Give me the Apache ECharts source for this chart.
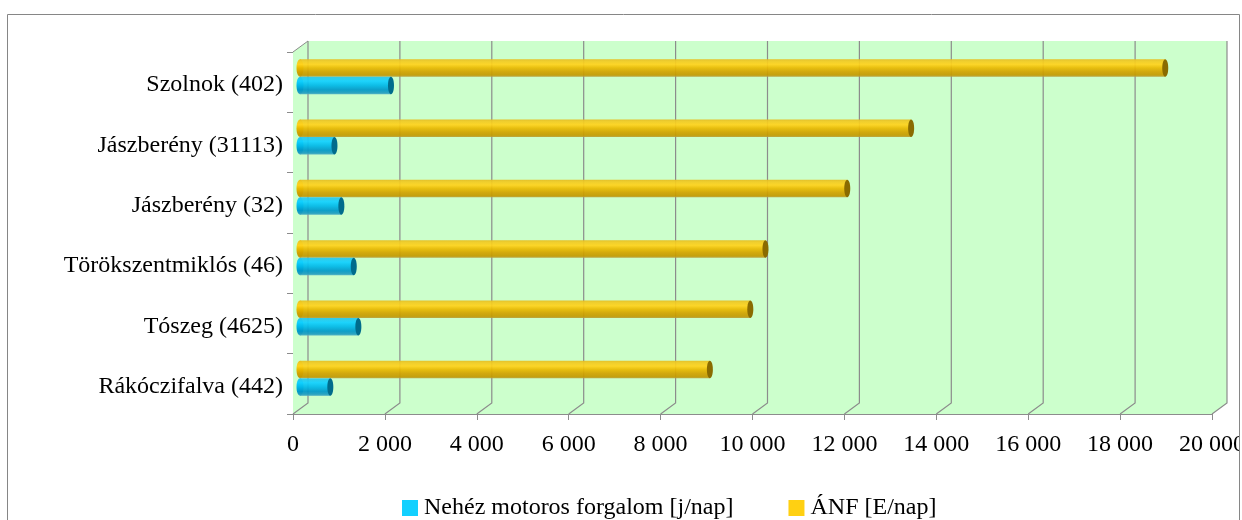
<!DOCTYPE html>
<html><head><meta charset="utf-8">
<style>html,body{margin:0;padding:0;background:#fff}#c{width:1242px;height:520px}</style>
<script src="https://cdn.jsdelivr.net/npm/echarts@6/dist/echarts.min.js"></script>
</head><body><div id="c"></div>
<script>
const categories = ['Rákóczifalva (442)','Tószeg (4625)','Törökszentmiklós (46)','Jászberény (32)','Jászberény (31113)','Szolnok (402)'];
const heavyTraffic = [660,1270,1170,900,750,1980];
const dailyTraffic = [8920,9800,10130,11910,13300,18830];
const valueTicks = [0,2000,4000,6000,8000,10000,12000,14000,16000,18000,20000];
const heavyName = 'Nehéz motoros forgalom [j/nap]';
const dailyName = 'ÁNF [E/nap]';

const FONT = '"Liberation Serif","Times New Roman",serif';
const DX = 15, DY = 11, BAR = 17.5, RX = 3, LINE = '#8c8c8c';
const chart = echarts.init(document.getElementById('c'), null, {renderer:'canvas'});

function grad(stops){
  return new echarts.graphic.LinearGradient(0,0,0,1,stops.map(s=>({offset:s[0],color:s[1]})));
}
const goldStops = [[0,'#e6bd1e'],[.12,'#f2cb22'],[.3,'#ffd21c'],[.5,'#e9b900'],[.72,'#d2a200'],[.9,'#c49a00'],[1,'#b9a03c']];
const blueStops = [[0,'#2cc6e6'],[.25,'#10d0ff'],[.5,'#00b8e8'],[.75,'#0098c8'],[.9,'#1c9cc0'],[1,'#4aacc4']];

function capsSeries(name, values, stops, dark, sign){
  return {
    type:'custom', name, xAxisIndex:1, yAxisIndex:1, z:4, clip:false, silent:true,
    encode:{x:0,y:1},
    data: values.map((v,i)=>[v,i]),
    renderItem(p,api){
      const end = api.coord([api.value(0),api.value(1)]);
      const start = api.coord([0,api.value(1)]);
      const cy = end[1] + sign*BAR/2;
      return {type:'group',children:[
        {type:'ellipse',shape:{cx:start[0],cy,rx:RX+0.5,ry:BAR/2},style:{fill:grad(stops)},z2:1},
        {type:'ellipse',shape:{cx:end[0],cy,rx:RX,ry:BAR/2},style:{fill:dark},z2:5}
      ]};
    }
  };
}

chart.setOption({
  animation:false,
  backgroundColor:'#fff',
  textStyle:{fontFamily:FONT},
  legend:{
    left:397, top:491, itemWidth:16, itemHeight:16, itemGap:55, icon:'rect',
    textStyle:{fontFamily:FONT,fontSize:24,color:'#000',padding:[0,0,0,1]},
    data:[{name:heavyName,itemStyle:{color:'#00ccff'}},{name:dailyName,itemStyle:{color:'#ffcc00'}}]
  },
  grid:[
    {left:293,top:52,width:919,height:362,outerBoundsMode:'none'},
    {left:300,top:46.5,width:919,height:362,outerBoundsMode:'none'}
  ],
  xAxis:[
    {type:'value',gridIndex:0,min:0,max:20000,interval:2000,
     axisLine:{show:true,lineStyle:{color:LINE}},
     axisTick:{show:true,length:6,lineStyle:{color:LINE}},
     splitLine:{show:false},
     axisLabel:{fontFamily:FONT,fontSize:24,color:'#000',margin:19,hideOverlap:false,showMaxLabel:true,showMinLabel:true,
       formatter:v=>String(v).replace(/\B(?=(\d{3})+$)/g,' ')}},
    {type:'value',gridIndex:1,min:0,max:20000,show:false}
  ],
  yAxis:[
    {type:'category',gridIndex:0,data:categories,
     axisLine:{show:true,lineStyle:{color:LINE}},
     axisTick:{show:true,length:6,alignWithLabel:false,lineStyle:{color:LINE}},
     axisLabel:{color:'#000',margin:10,formatter:v=>'{a|'+v+'}',
       rich:{a:{fontFamily:FONT,fontSize:24,color:'#000',padding:[6,0,0,0]}}}},
    {type:'category',gridIndex:1,data:categories,show:false}
  ],
  series:[
    {type:'custom',xAxisIndex:0,yAxisIndex:0,z:1,silent:true,clip:false,
     data:[0],
     renderItem(p,api){
       const sys = p.coordSys;
       const L=sys.x,T=sys.y,R=sys.x+sys.width,B=sys.y+sys.height;
       const kids=[{type:'polygon',shape:{points:[[L,T],[L+DX,T-DY],[R+DX,T-DY],[R+DX,B-DY],[R,B],[L,B]]},style:{fill:'#ccffcc'}}];
       kids.push({type:'line',shape:{x1:L,y1:T,x2:L+DX,y2:T-DY},style:{stroke:LINE,lineWidth:1}});
       valueTicks.forEach(t=>{
         const x = api.coord([t,0])[0];
         kids.push({type:'polyline',shape:{points:[[x,B],[x+DX,B-DY],[x+DX,T-DY]]},style:{stroke:LINE,lineWidth:1.2,fill:null}});
       });
       return {type:'group',children:kids};
     }},
    {type:'bar',name:dailyName,xAxisIndex:1,yAxisIndex:1,data:dailyTraffic,barWidth:BAR,barGap:'0%',z:3,
     itemStyle:{color:grad(goldStops),opacity:.93}},
    {type:'bar',name:heavyName,xAxisIndex:1,yAxisIndex:1,data:heavyTraffic,barWidth:BAR,barGap:'0%',z:3,
     itemStyle:{color:grad(blueStops),opacity:.93}},
    capsSeries(heavyName,heavyTraffic,blueStops,'#006c8c',1),
    capsSeries(dailyName,dailyTraffic,goldStops,'#8a6b00',-1)
  ],
  graphic:[
    {type:'rect',z:100,silent:true,shape:{x:1240,y:0,width:2,height:520},style:{fill:'#fff'}},
    {type:'rect',z:101,silent:true,shape:{x:7.5,y:14.5,width:1232,height:520},style:{fill:'none',stroke:'#868686',lineWidth:1}}
  ]
});
</script></body></html>
